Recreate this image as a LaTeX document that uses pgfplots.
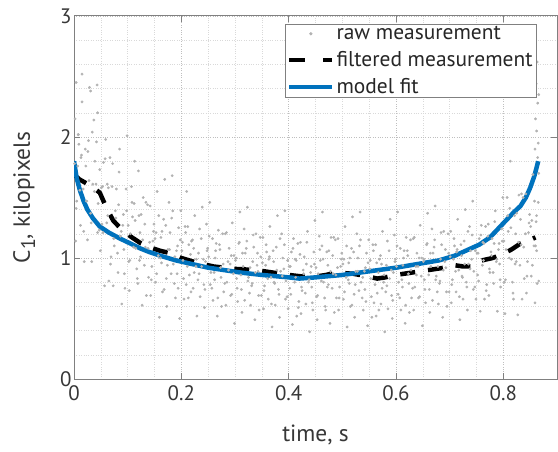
\documentclass[border=0pt]{standalone}
\usepackage{pgfplots}
\pgfplotsset{compat=1.18}
\usepackage{fontspec}
\setmainfont{PT Sans}
\usetikzlibrary{calc}
\definecolor{mblue}{RGB}{0,114,189}
\definecolor{axgray}{RGB}{128,128,128}
\definecolor{txtgray}{RGB}{55,55,55}
\definecolor{ptgray}{RGB}{178,178,178}
\pgfplotsset{
 markleg/.style={legend image code/.code={\draw[mark repeat=2,mark phase=2,##1] plot coordinates {(0bp,0bp) (21.5bp,0bp) (43bp,0bp)};}},
 dashleg/.style={legend image code/.code={\draw[##1, dash pattern=on 16bp off 18bp] (0bp,0bp) -- (43bp,0bp);}},
 lineleg/.style={legend image code/.code={\draw[##1] (0bp,0bp) -- (43bp,0bp);}},
}
\begin{document}
\begin{tikzpicture}
\begin{axis}[
 scale only axis, width=483bp, height=363bp,
 xmin=0, xmax=0.9, ymin=0, ymax=3,
 xtick={0,0.2,0.4,0.6,0.8}, ytick={0,1,2,3},
 minor x tick num=3, minor y tick num=4,
 grid=both,
 major grid style={dotted, line width=0.6bp, color=black!25},
 minor grid style={dotted, line width=0.5bp, color=black!15},
 axis line style={axgray, line width=1bp},
 tick style={axgray, line width=1bp},
 major tick length=6bp, minor tick length=0bp,
 tick align=inside, tick pos=both,
 /pgf/number format/assume math mode=true,
 /pgf/number format/fixed,
 ticklabel style={font=\fontsize{21}{25}\selectfont, text=txtgray},
 xticklabel style={yshift=-3bp},
 yticklabel style={xshift=1bp},
 label style={font=\fontsize{23.5}{27}\selectfont, text=txtgray},
 xlabel={time, s},
 ylabel={C\raisebox{-0.45ex}{\fontsize{20}{22}\selectfont 1}, kilopixels},
 xlabel style={at={(axis description cs:0.5,-0.155)}, anchor=center},
 ylabel style={at={(axis description cs:-0.103,0.5)}, anchor=center},
 legend style={at={(0.9586,0.978)}, anchor=north east, draw=axgray, line width=0.8bp, fill=white,
   font=\fontsize{21.5}{25}\selectfont, text=black!85, inner xsep=2bp, inner ysep=0bp,
   nodes={inner sep=2bp}, row sep=6.5bp},
 legend cell align=left,
]
\addplot[ptgray, only marks, mark=*, mark size=1.2bp, mark options={draw=none, fill=ptgray}, markleg]
coordinates {
(0.002,2.15)(0.005,1.47)(0.007,1.76)(0.003,1.14)(0.009,1.94)
(0.012,1.27)(0.015,2.29)(0.017,1.57)(0.013,1.83)(0.019,0.97)
(0.022,1.76)(0.025,1.15)(0.027,1.97)(0.023,1.47)(0.029,2.41)
(0.032,1.29)(0.035,1.61)(0.037,2.14)(0.033,0.97)(0.039,1.80)
(0.042,1.96)(0.045,1.45)(0.047,1.23)(0.043,2.43)(0.049,1.06)
(0.052,1.28)(0.055,1.79)(0.057,0.77)(0.053,1.59)(0.059,1.98)
(0.062,1.61)(0.065,0.81)(0.067,1.83)(0.063,1.35)(0.069,1.01)
(0.072,1.78)(0.075,1.10)(0.077,1.39)(0.073,0.77)(0.079,1.57)
(0.082,0.88)(0.085,1.90)(0.087,1.18)(0.083,1.44)(0.089,0.62)
(0.092,1.36)(0.095,0.75)(0.097,1.57)(0.093,1.07)(0.099,2.01)
(0.102,0.97)(0.105,1.20)(0.107,1.59)(0.103,0.73)(0.109,1.34)
(0.112,1.45)(0.115,1.08)(0.117,0.91)(0.113,1.80)(0.119,0.79)
(0.122,0.98)(0.125,1.36)(0.127,0.61)(0.123,1.21)(0.129,1.50)
(0.132,1.28)(0.135,0.69)(0.137,1.44)(0.133,1.09)(0.139,0.84)
(0.142,1.43)(0.145,0.93)(0.147,1.14)(0.143,0.69)(0.149,1.28)
(0.152,0.80)(0.155,1.55)(0.157,1.02)(0.153,1.21)(0.159,0.51)
(0.162,1.17)(0.165,0.72)(0.167,1.32)(0.163,0.96)(0.169,1.65)
(0.172,0.83)(0.175,1.07)(0.177,1.46)(0.173,0.60)(0.179,1.21)
(0.182,1.33)(0.185,0.95)(0.187,0.79)(0.183,1.68)(0.189,0.67)
(0.192,0.87)(0.195,1.25)(0.197,0.50)(0.193,1.10)(0.199,1.39)
(0.202,1.13)(0.205,0.66)(0.207,1.26)(0.203,0.98)(0.209,0.78)
(0.212,1.26)(0.215,0.86)(0.217,1.03)(0.213,0.67)(0.219,1.14)
(0.222,0.75)(0.225,1.35)(0.227,0.93)(0.223,1.08)(0.229,0.52)
(0.232,1.04)(0.235,0.68)(0.237,1.16)(0.233,0.87)(0.239,1.42)
(0.242,0.78)(0.245,0.97)(0.247,1.28)(0.243,0.59)(0.249,1.08)
(0.252,1.18)(0.255,0.88)(0.257,0.75)(0.253,1.46)(0.259,0.65)
(0.262,0.82)(0.265,1.12)(0.267,0.52)(0.263,1.00)(0.269,1.23)
(0.272,1.07)(0.275,0.60)(0.277,1.20)(0.273,0.92)(0.279,0.72)
(0.282,1.20)(0.285,0.80)(0.287,0.97)(0.283,0.61)(0.289,1.08)
(0.292,0.69)(0.295,1.29)(0.297,0.87)(0.293,1.02)(0.299,0.46)
(0.302,1.00)(0.305,0.64)(0.307,1.12)(0.303,0.83)(0.309,1.38)
(0.312,0.74)(0.315,0.93)(0.317,1.24)(0.313,0.55)(0.319,1.04)
(0.322,1.14)(0.325,0.84)(0.327,0.71)(0.323,1.42)(0.329,0.61)
(0.332,0.79)(0.335,1.09)(0.337,0.49)(0.333,0.97)(0.339,1.20)
(0.342,1.04)(0.345,0.57)(0.347,1.17)(0.343,0.89)(0.349,0.69)
(0.352,1.17)(0.355,0.77)(0.357,0.94)(0.353,0.58)(0.359,1.05)
(0.362,0.66)(0.365,1.26)(0.367,0.84)(0.363,0.99)(0.369,0.43)
(0.372,0.97)(0.375,0.61)(0.377,1.09)(0.373,0.80)(0.379,1.35)
(0.382,0.70)(0.385,0.89)(0.387,1.20)(0.383,0.51)(0.389,1.00)
(0.392,1.11)(0.395,0.81)(0.397,0.68)(0.393,1.39)(0.399,0.58)
(0.402,0.75)(0.405,1.05)(0.407,0.45)(0.403,0.93)(0.409,1.16)
(0.412,0.99)(0.415,0.52)(0.417,1.12)(0.413,0.84)(0.419,0.64)
(0.422,1.13)(0.425,0.73)(0.427,0.90)(0.423,0.54)(0.429,1.01)
(0.432,0.62)(0.435,1.22)(0.437,0.80)(0.433,0.95)(0.439,0.39)
(0.442,0.93)(0.445,0.57)(0.447,1.05)(0.443,0.76)(0.449,1.31)
(0.452,0.68)(0.455,0.87)(0.457,1.18)(0.453,0.49)(0.459,0.98)
(0.462,1.10)(0.465,0.80)(0.467,0.67)(0.463,1.38)(0.469,0.57)
(0.472,0.76)(0.475,1.06)(0.477,0.46)(0.473,0.94)(0.479,1.17)
(0.482,1.02)(0.485,0.55)(0.487,1.15)(0.483,0.87)(0.489,0.67)
(0.492,1.16)(0.495,0.76)(0.497,0.93)(0.493,0.57)(0.499,1.04)
(0.502,0.66)(0.505,1.26)(0.507,0.84)(0.503,0.99)(0.509,0.43)
(0.512,0.96)(0.515,0.60)(0.517,1.08)(0.513,0.79)(0.519,1.34)
(0.522,0.70)(0.525,0.89)(0.527,1.20)(0.523,0.51)(0.529,1.00)
(0.532,1.10)(0.535,0.80)(0.537,0.67)(0.533,1.38)(0.539,0.57)
(0.542,0.74)(0.545,1.04)(0.547,0.44)(0.543,0.92)(0.549,1.15)
(0.552,0.98)(0.555,0.51)(0.557,1.11)(0.553,0.83)(0.559,0.63)
(0.562,1.11)(0.565,0.71)(0.567,0.88)(0.563,0.52)(0.569,0.99)
(0.572,0.62)(0.575,1.22)(0.577,0.80)(0.573,0.95)(0.579,0.39)
(0.582,0.94)(0.585,0.58)(0.587,1.06)(0.583,0.77)(0.589,1.32)
(0.592,0.69)(0.595,0.88)(0.597,1.19)(0.593,0.50)(0.599,0.99)
(0.602,1.10)(0.605,0.80)(0.607,0.67)(0.603,1.38)(0.609,0.57)
(0.612,0.76)(0.615,1.06)(0.617,0.46)(0.613,0.94)(0.619,1.17)
(0.622,1.02)(0.625,0.55)(0.627,1.15)(0.623,0.87)(0.629,0.67)
(0.632,1.16)(0.635,0.76)(0.637,0.93)(0.633,0.57)(0.639,1.04)
(0.642,0.67)(0.645,1.27)(0.647,0.85)(0.643,1.00)(0.649,0.44)
(0.652,0.99)(0.655,0.63)(0.657,1.11)(0.653,0.82)(0.659,1.37)
(0.662,0.74)(0.665,0.93)(0.667,1.24)(0.663,0.55)(0.669,1.04)
(0.672,1.15)(0.675,0.85)(0.677,0.72)(0.673,1.43)(0.679,0.62)
(0.682,0.81)(0.685,1.11)(0.687,0.51)(0.683,0.99)(0.689,1.22)
(0.692,1.07)(0.695,0.60)(0.697,1.20)(0.693,0.92)(0.699,0.72)
(0.702,1.22)(0.705,0.82)(0.707,0.99)(0.703,0.63)(0.709,1.10)
(0.712,0.72)(0.715,1.32)(0.717,0.90)(0.713,1.05)(0.719,0.49)
(0.722,1.02)(0.725,0.66)(0.727,1.14)(0.723,0.85)(0.729,1.40)
(0.732,0.76)(0.735,0.95)(0.737,1.26)(0.733,0.57)(0.739,1.06)
(0.742,1.19)(0.745,0.89)(0.747,0.76)(0.743,1.47)(0.749,0.66)
(0.752,0.86)(0.755,1.16)(0.757,0.56)(0.753,1.04)(0.759,1.27)
(0.762,1.13)(0.765,0.66)(0.767,1.26)(0.763,0.98)(0.769,0.78)
(0.772,1.28)(0.775,0.88)(0.777,1.05)(0.773,0.69)(0.779,1.16)
(0.782,0.79)(0.785,1.39)(0.787,0.97)(0.783,1.12)(0.789,0.56)
(0.792,1.12)(0.795,0.76)(0.797,1.24)(0.793,0.95)(0.799,1.50)
(0.802,0.80)(0.805,1.07)(0.807,1.50)(0.803,0.54)(0.809,1.22)
(0.812,1.41)(0.815,0.99)(0.817,0.80)(0.813,1.80)(0.819,0.66)
(0.822,0.95)(0.825,1.37)(0.827,0.53)(0.823,1.20)(0.829,1.52)
(0.832,1.32)(0.835,0.66)(0.837,1.50)(0.833,1.11)(0.839,0.83)
(0.842,1.53)(0.845,0.97)(0.847,1.21)(0.843,0.71)(0.849,1.36)
(0.852,0.85)(0.855,1.69)(0.857,1.10)(0.853,1.31)(0.859,0.63)
(0.861,1.30)(0.863,0.79)(0.865,1.46)(0.862,1.06)(0.864,1.83)
(0.862,2.05)(0.864,2.28)(0.861,2.44)(0.863,2.62)(0.865,1.95)(0.860,2.15)
(0.004,2.45)(0.015,2.52)(0.031,2.38)(0.008,2.02)(0.026,1.88)(0.044,2.20)(0.120,1.72)(0.210,1.55)
(0.001,1.78)(0.004,1.41)(0.008,2.02)(0.011,1.56)(0.014,1.85)(0.018,1.22)
(0.021,1.90)(0.024,1.47)(0.028,1.64)(0.031,1.37)(0.034,2.04)(0.038,1.55)
(0.041,1.61)(0.044,1.21)(0.048,1.73)(0.051,1.58)(0.054,1.21)(0.058,1.82)
(0.061,1.29)(0.064,1.58)(0.068,0.95)(0.071,1.59)(0.074,1.16)(0.078,1.33)
(0.081,1.04)(0.084,1.71)(0.088,1.22)(0.091,1.27)(0.094,0.87)(0.098,1.39)
(0.101,1.27)(0.104,0.98)(0.108,1.46)(0.111,1.09)(0.114,1.31)(0.118,0.83)
(0.121,1.35)(0.124,1.01)(0.128,1.15)(0.131,0.94)(0.134,1.46)(0.138,1.08)
(0.141,1.13)(0.144,0.82)(0.148,1.22)(0.151,1.16)(0.154,0.87)(0.158,1.35)
(0.161,1.00)(0.164,1.22)(0.168,0.74)(0.171,1.27)(0.174,0.94)(0.178,1.07)
(0.181,0.87)(0.184,1.39)(0.188,1.01)(0.191,1.06)(0.194,0.75)(0.198,1.15)
(0.201,1.06)(0.204,0.83)(0.208,1.21)(0.211,0.93)(0.214,1.11)(0.218,0.72)
(0.221,1.15)(0.224,0.88)(0.228,0.99)(0.231,0.82)(0.234,1.24)(0.238,0.93)
(0.241,0.99)(0.244,0.74)(0.248,1.06)(0.251,1.01)(0.254,0.78)(0.258,1.16)
(0.261,0.88)(0.264,1.06)(0.268,0.67)(0.271,1.11)(0.274,0.84)(0.278,0.95)
(0.281,0.79)(0.284,1.21)(0.288,0.90)(0.291,0.95)(0.294,0.70)(0.298,1.02)
(0.301,0.98)(0.304,0.75)(0.308,1.13)(0.311,0.86)(0.314,1.04)(0.318,0.65)
(0.321,1.08)(0.324,0.81)(0.328,0.92)(0.331,0.77)(0.334,1.19)(0.338,0.88)
(0.341,0.94)(0.344,0.69)(0.348,1.01)(0.351,0.96)(0.354,0.73)(0.358,1.11)
(0.361,0.83)(0.364,1.01)(0.368,0.62)(0.371,1.06)(0.374,0.79)(0.378,0.90)
(0.381,0.74)(0.384,1.16)(0.388,0.85)(0.391,0.91)(0.394,0.66)(0.398,0.98)
(0.401,0.93)(0.404,0.70)(0.408,1.08)(0.411,0.80)(0.414,0.98)(0.418,0.59)
(0.421,1.03)(0.424,0.76)(0.428,0.87)(0.431,0.71)(0.434,1.13)(0.438,0.82)
(0.441,0.88)(0.444,0.63)(0.448,0.95)(0.451,0.92)(0.454,0.69)(0.458,1.07)
(0.461,0.81)(0.464,0.99)(0.468,0.60)(0.471,1.05)(0.474,0.78)(0.478,0.89)
(0.481,0.75)(0.484,1.17)(0.488,0.86)(0.491,0.92)(0.494,0.67)(0.498,0.99)
(0.501,0.95)(0.504,0.72)(0.508,1.10)(0.511,0.82)(0.514,1.00)(0.518,0.61)
(0.521,1.05)(0.524,0.78)(0.528,0.89)(0.531,0.73)(0.534,1.15)(0.538,0.84)
(0.541,0.89)(0.544,0.64)(0.548,0.96)(0.551,0.91)(0.554,0.68)(0.558,1.06)
(0.561,0.78)(0.564,0.96)(0.568,0.57)(0.571,1.02)(0.574,0.75)(0.578,0.86)
(0.581,0.72)(0.584,1.14)(0.588,0.83)(0.591,0.90)(0.594,0.65)(0.598,0.97)
(0.601,0.93)(0.604,0.70)(0.608,1.08)(0.611,0.82)(0.614,1.00)(0.618,0.61)
(0.621,1.06)(0.624,0.79)(0.628,0.90)(0.631,0.75)(0.634,1.17)(0.638,0.86)
(0.641,0.93)(0.644,0.68)(0.648,1.00)(0.651,0.97)(0.654,0.74)(0.658,1.12)
(0.661,0.86)(0.664,1.04)(0.668,0.65)(0.671,1.09)(0.674,0.82)(0.678,0.93)
(0.681,0.79)(0.684,1.21)(0.688,0.90)(0.691,0.97)(0.694,0.72)(0.698,1.04)
(0.701,1.01)(0.704,0.78)(0.708,1.16)(0.711,0.89)(0.714,1.07)(0.718,0.68)
(0.721,1.11)(0.724,0.84)(0.728,0.95)(0.731,0.80)(0.734,1.22)(0.738,0.91)
(0.741,0.99)(0.744,0.74)(0.748,1.06)(0.751,1.04)(0.754,0.81)(0.758,1.19)
(0.761,0.94)(0.764,1.12)(0.768,0.73)(0.771,1.18)(0.774,0.91)(0.778,1.02)
(0.781,0.88)(0.784,1.30)(0.788,0.99)(0.791,1.07)(0.794,0.82)(0.798,1.14)
(0.801,1.14)(0.804,0.82)(0.808,1.35)(0.811,1.00)(0.814,1.25)(0.818,0.71)
(0.821,1.35)(0.824,0.97)(0.828,1.13)(0.831,0.94)(0.834,1.53)(0.838,1.09)
(0.841,1.20)(0.844,0.85)(0.848,1.29)(0.851,1.26)(0.854,0.94)(0.858,1.47)
(0.860,1.10)(0.862,1.35)(0.866,0.81)(0.866,2.35)(0.859,1.90)(0.866,1.70)
};
\addlegendentry{raw measurement}
\addplot[black, line width=4.5bp, dash pattern=on 15bp off 13bp, line join=round, dashleg]
coordinates {
(0,1.69)(0.01,1.65)(0.03,1.60)(0.048,1.54)(0.06,1.42)(0.073,1.31)(0.09,1.23)
(0.108,1.17)(0.125,1.12)(0.14,1.09)(0.16,1.06)(0.18,1.04)(0.2,1.00)(0.23,0.96)
(0.26,0.93)(0.30,0.91)(0.34,0.90)(0.37,0.88)(0.40,0.86)(0.44,0.84)(0.47,0.86)
(0.487,0.88)(0.52,0.87)(0.545,0.85)(0.565,0.83)(0.58,0.84)(0.60,0.86)(0.63,0.88)
(0.66,0.90)(0.69,0.92)(0.71,0.94)(0.725,0.93)(0.74,0.93)(0.76,0.98)(0.78,1.00)
(0.798,1.03)(0.815,1.07)(0.832,1.12)(0.845,1.14)(0.86,1.17)
};
\addlegendentry{filtered measurement}
\addplot[mblue, line width=4.5bp, line join=round, lineleg]
coordinates {
(0,1.80)(0.005,1.66)(0.011,1.56)(0.018,1.47)(0.025,1.40)(0.035,1.33)(0.048,1.26)
(0.065,1.21)(0.086,1.16)(0.105,1.12)(0.123,1.08)(0.14,1.05)(0.16,1.02)(0.19,0.98)
(0.22,0.95)(0.25,0.92)(0.28,0.90)(0.31,0.88)(0.35,0.86)(0.40,0.84)(0.42,0.83)
(0.45,0.84)(0.50,0.86)(0.55,0.89)(0.60,0.92)(0.64,0.95)(0.68,0.98)(0.71,1.02)
(0.735,1.07)(0.755,1.11)(0.775,1.17)(0.79,1.24)(0.807,1.32)(0.82,1.38)(0.832,1.43)
(0.842,1.50)(0.85,1.58)(0.858,1.68)(0.865,1.80)
};
\addlegendentry{model fit}
\end{axis}
\pgfresetboundingbox
\useasboundingbox ($(current axis.south west)+(-74bp,-72bp)$) rectangle ($(current axis.north east)+(1bp,16bp)$);
\end{tikzpicture}
\end{document}
